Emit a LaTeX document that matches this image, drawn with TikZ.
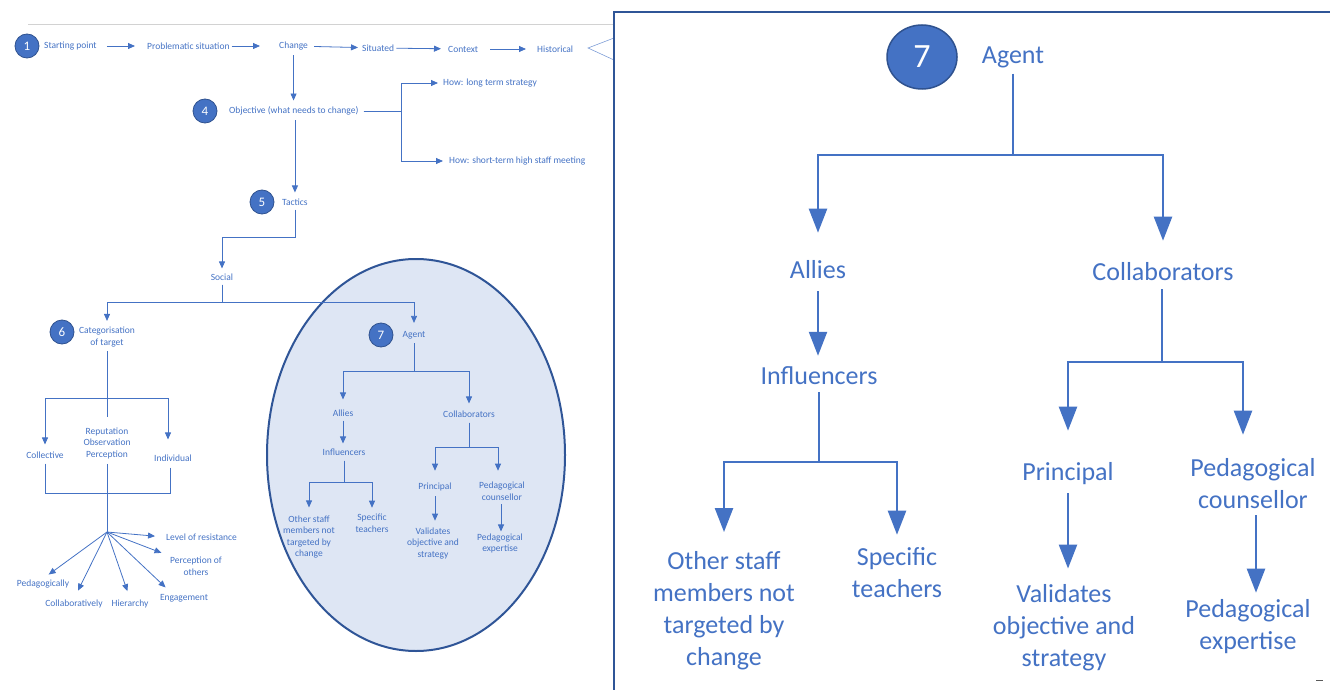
\documentclass[tikz,border=0pt]{standalone}
\usepackage{fontspec}
\setmainfont{Carlito}
\usetikzlibrary{arrows.meta,calc,shapes.geometric}
\definecolor{ob}{HTML}{4472C4}
\definecolor{obd}{HTML}{2F528F}
\definecolor{frame}{HTML}{2F5597}
\definecolor{bubble}{HTML}{DEE6F4}

\begin{document}
\begin{tikzpicture}[x=1pt,y=-1pt,
  lbl/.style={text=ob,font=\fontsize{9.5}{11.5}\selectfont,align=center,inner sep=1pt},
  blbl/.style={text=ob,font=\fontsize{26}{32}\selectfont,align=center,inner sep=2pt},
  num/.style={circle,fill=ob,draw=obd,line width=0.8pt,text=white,minimum size=24pt,inner sep=0pt,font=\fontsize{13}{13}\selectfont},
  conn/.style={draw=ob,line width=0.8pt},
  arr/.style={conn,-{Triangle[length=7pt,width=6pt]}},
  bconn/.style={draw=ob,line width=2.4pt},
  barr/.style={bconn,-{Triangle[length=24pt,width=18pt]}},
]
\useasboundingbox (0,0) rectangle (1330,690);

% --- agent bubble behind the small tree
\draw[draw=frame,line width=2pt,fill=bubble] (416,455) ellipse [x radius=149, y radius=196];

% --- rule above the flow and the partly hidden bracket
\draw[gray!35,line width=0.8pt] (28,24) -- (614,24);
\draw[ob!70,line width=0.6pt] (614,38) -- (588,48) -- (614,60);

% --- top row
\node[num] (n1) at (27,46) {1};
\node[lbl,anchor=west] (start) at (43,46) {Starting point};
\node[lbl,anchor=west] (prob) at (146,46) {Problematic situation};
\node[lbl,anchor=west] (change) at (278,46) {Change};
\node[lbl,anchor=west] (sit) at (361,48) {Situated};
\node[lbl,anchor=west] (ctx) at (447,49) {Context};
\node[lbl,anchor=west] (hist) at (536,49) {Historical};
\draw[arr,shorten <=9pt,shorten >=11pt] (start) -- (prob);
\draw[arr,shorten <=1pt,shorten >=18pt] (prob) -- (change);
\draw[arr,shorten <=5pt,shorten >=3pt] (change) -- (sit);
\draw[arr,shorten <=1pt,shorten >=6pt] (sit) -- (ctx);
\draw[arr,shorten <=11pt,shorten >=10pt] (ctx) -- (hist);

% --- objective
\node[num] (n4) at (205,111) {4};
\node[lbl,anchor=west] (obj) at (228,111) {Objective (what needs to change)};
\node[lbl,anchor=west] (how1) at (442,83) {How: long term strategy};
\node[lbl,anchor=west] (how2) at (448,161) {How: short-term high staff meeting};
\draw[arr,shorten <=4pt,shorten >=5pt] (change.south) -- (change.south |- obj.north);
\draw[arr,shorten <=4pt,shorten >=4pt] (obj.east) -- ++(42,0) |- (how1.west);
\draw[arr,shorten <=4pt,shorten >=5pt] (obj.east) -- ++(42,0) |- (how2.west);

% --- tactics and social
\node[num] (n5) at (262,202) {5};
\node[lbl,anchor=west] (tac) at (281,202) {Tactics};
\draw[arr,shorten <=4pt,shorten >=5pt] (tac.north |- obj.south) -- (tac.north);
\node[lbl] (soc) at (222,277) {Social};
\draw[arr,shorten <=3pt,shorten >=4pt] (tac.south) -- ++(0,31) -| (soc.north);

% --- categorisation of target
\node[num] (n6) at (62,332) {6};
\node[lbl] (cat) at (107,337) {Categorisation\\of target};
\node[lbl] (agS) at (414,335) {Agent};
\node[num] (n7) at (381,335) {7};
\draw[arr,shorten <=3pt,shorten >=5pt] (soc.south) -- ++(0,21) -| (cat.north);
\draw[arr,shorten <=3pt,shorten >=7pt] (soc.south) -- ++(0,21) -| (agS.north);

\node[lbl] (coll) at (45,455) {Collective};
\node[lbl] (rep) at (107,443) {Reputation\\Observation\\Perception};
\node[lbl] (ind) at (173,458) {Individual};
\draw[arr,shorten <=3pt,shorten >=6pt] (cat.south) -- ++(0,50) -| (coll.north);
\draw[arr,shorten <=3pt,shorten >=14pt] (cat.south) -- ++(0,50) -| ([xshift=-5pt]ind.north);
\draw[conn,shorten <=3pt,shorten >=9pt] (cat.south) -- (rep.north);

\coordinate (join) at (107,493);
\coordinate (fan) at (107,532);
\draw[conn,shorten <=4pt] (coll.south) |- (join);
\draw[conn,shorten <=5pt] ([xshift=-3pt]ind.south) |- (join);
\draw[conn,shorten <=4pt] (rep.south) -- (fan);

\node[lbl,anchor=west] (lev) at (165,537) {Level of resistance};
\node[lbl] (perc) at (196,566) {Perception of\\others};
\node[lbl] (eng) at (184,598) {Engagement};
\node[lbl] (hier) at (130,604) {Hierarchy};
\node[lbl] (collab) at (74,604) {Collaboratively};
\node[lbl] (ped) at (43,584) {Pedagogically};
\draw[arr,shorten >=10pt] (fan) -- (lev.west);
\draw[arr,shorten >=8pt] (fan) -- (perc.north west);
\draw[arr,shorten >=8pt] (fan) -- ($(eng.north)!0.5!(eng.north west)$);
\draw[arr,shorten >=8pt] (fan) -- (hier.north);
\draw[arr,shorten >=9pt] (fan) -- (collab.north);
\draw[arr,shorten >=7pt] (fan) -- (ped.north);

% --- small agent tree
\node[lbl] (alS) at (343,413) {Allies};
\node[lbl] (coS) at (469,414) {Collaborators};
\draw[arr,shorten <=3pt,shorten >=9pt] (agS.south) -- ++(0,31) -| (alS.north);
\draw[arr,shorten <=3pt,shorten >=6pt] (agS.south) -- ++(0,31) -| (coS.north);
\node[lbl] (inS) at (344,452) {Influencers};
\draw[arr,shorten <=3pt,shorten >=4pt] (alS.south) -- (alS.south |- inS.north);
\node[lbl] (otS) at (309,537) {Other staff\\members not\\targeted by\\change};
\node[lbl] (spS) at (372,523) {Specific\\teachers};
\draw[arr,shorten <=4pt,shorten >=7pt] (inS.south) -- ++(0,26) -| (otS.north);
\draw[arr,shorten <=4pt,shorten >=5pt] (inS.south) -- ++(0,26) -| (spS.north);
\node[lbl] (prS) at (435,487) {Principal};
\node[lbl] (pcS) at (502,491) {Pedagogical\\counsellor};
\draw[arr,shorten <=4pt,shorten >=11pt] (coS.south) -- ++(0,29) -| (prS.north);
\draw[arr,shorten <=4pt,shorten >=10pt] (coS.south) -- ++(0,29) -| ([xshift=-4pt]pcS.north);
\node[lbl] (vaS) at (433,543.5) {Validates\\objective and\\strategy};
\node[lbl] (exS) at (500,543.5) {Pedagogical\\expertise};
\draw[arr,shorten <=4pt,shorten >=6pt] (prS.south) -- (prS.south |- vaS.north);
\draw[arr,shorten <=3pt,shorten >=1pt] ([xshift=-1pt]pcS.south) -- ([xshift=-1pt]pcS.south |- exS.north);

% --- enlarged panel
\draw[draw=frame,line width=2pt,fill=white] (614,12) rectangle (1345,705);
\node[ellipse,minimum width=70pt,minimum height=64pt,fill=ob,draw=obd,line width=1.5pt,text=white,font=\fontsize{34}{34}\selectfont] (n7R) at (922,57) {7};
\node[blbl] (agR) at (1013,57) {Agent};
\node[blbl] (alR) at (818,270) {Allies};
\node[blbl] (coR) at (1163,272) {Collaborators};
\draw[barr,shorten <=4pt,shorten >=26pt] (agR.south) -- ++(0,85) -| (alR.north);
\draw[barr,shorten <=4pt,shorten >=20pt] (agR.south) -- ++(0,85) -| (coR.north);
\node[blbl] (inR) at (819,376) {Influencers};
\draw[barr,shorten <=10pt,shorten >=9pt] (alR.south) -- (alR.south |- inR.north);
\node[blbl] (otR) at (724,610.5) {Other staff\\members not\\targeted by\\change};
\node[blbl] (spR) at (897,573) {Specific\\teachers};
\draw[barr,shorten <=5pt,shorten >=17pt] (inR.south) -- ++(0,75) -| (otR.north);
\draw[barr,shorten <=5pt,shorten >=11pt] (inR.south) -- ++(0,75) -| (spR.north);
\node[blbl] (prR) at (1068,474) {Principal};
\node[blbl] (pcR) at (1253,484) {Pedagogical\\counsellor};
\draw[barr,shorten <=6pt,shorten >=30pt] ([xshift=-1pt]coR.south) -- ++(0,78.5) -| (prR.north);
\draw[barr,shorten <=6pt,shorten >=22pt] ([xshift=-1pt]coR.south) -- ++(0,78.5) -| ([xshift=-10pt]pcR.north);
\node[blbl] (vaR) at (1064,628) {Validates\\objective and\\strategy};
\node[blbl] (exR) at (1248,627) {Pedagogical\\expertise};
\draw[barr,shorten <=6pt,shorten >=14pt] (prR.south) -- (prR.south |- vaR.north);
\draw[barr,shorten <=4pt,shorten >=5pt] ([xshift=3pt]pcR.south) -- ([xshift=3pt]pcR.south |- exR.north);
\draw[gray!70!black,line width=1pt] (1316,680) -- (1323,680);
\end{tikzpicture}
\end{document}
